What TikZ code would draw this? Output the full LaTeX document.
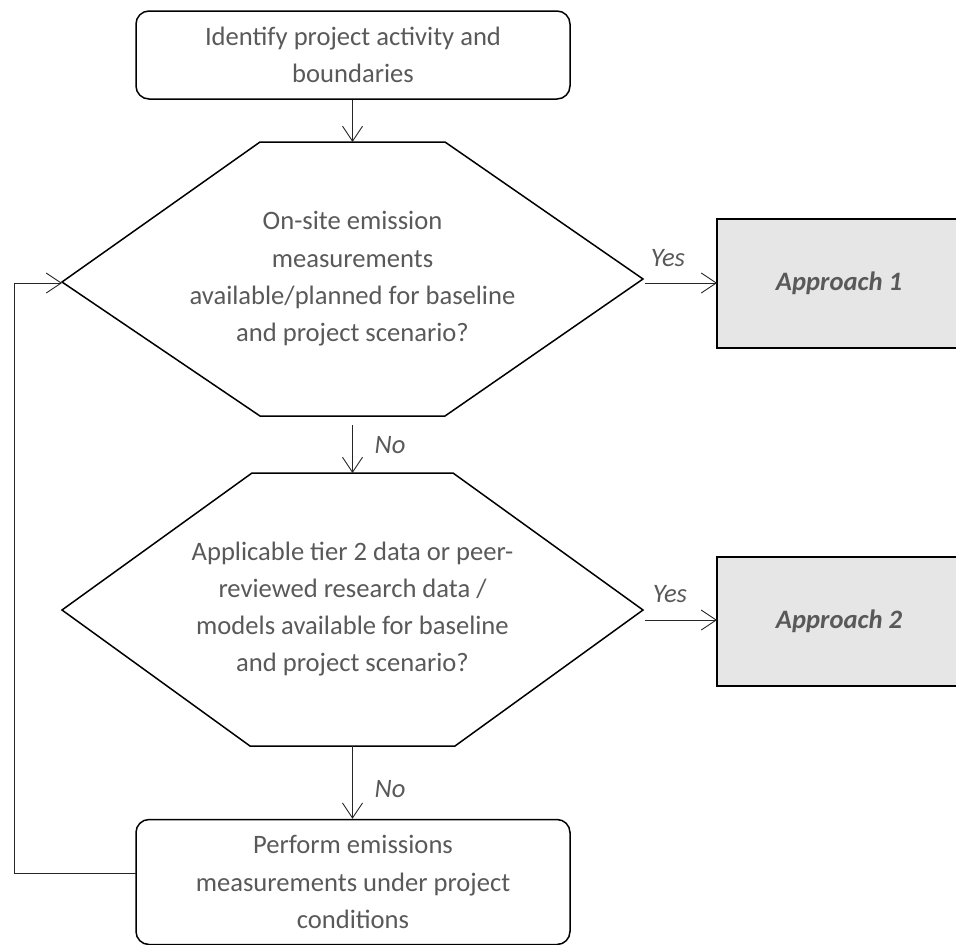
\documentclass[tikz,border=0pt]{standalone}
\usepackage{fontspec}
\setmainfont{Carlito}
\usetikzlibrary{arrows.meta}
\definecolor{txtgray}{HTML}{595959}
\definecolor{boxfill}{HTML}{E6E6E6}
\tikzset{
  flowtext/.style={font=\fontsize{26.6}{37.3}\selectfont, text=txtgray, align=center},
  roundbox/.style={draw=black, line width=1.5pt, rounded corners=13pt, minimum width=434pt, minimum height=88pt, inner sep=0pt, flowtext},
  approachbox/.style={draw=black, line width=1.5pt, fill=boxfill, minimum width=244pt, minimum height=129pt, inner sep=0pt, font=\fontsize{26.6}{37.3}\selectfont\bfseries\itshape, text=txtgray},
  hexline/.style={draw=black, line width=1.5pt},
  conn/.style={draw=black!85, line width=0.9pt, -{Straight Barb[length=15pt,width=20pt,line width=0.9pt]}},
  lbl/.style={font=\fontsize{26.6}{37.3}\selectfont\itshape, text=txtgray, inner sep=0pt}
}
\begin{document}
\begin{tikzpicture}[x=1pt,y=-1pt]
\useasboundingbox (0,0) rectangle (956,945);
\begin{scope}
\clip (0,0) rectangle (956,945);
% top box
\node[roundbox] (start) at (353,55) {Identify project activity and\\boundaries};
% hexagon 1
\coordinate (h1top) at (352.5,142);
\coordinate (h1bot) at (352.5,416);
\coordinate (h1left) at (62,282);
\coordinate (h1right) at (643,279);
\draw[hexline] (260,142) -- (445,142) -- (h1right) -- (445,416) -- (260,416) -- (h1left) -- cycle;
\node[flowtext] (q1) at (352.5,279) {On-site emission\\measurements\\available/planned for baseline\\and project scenario?};
% hexagon 2
\coordinate (h2top) at (352.5,473);
\coordinate (h2bot) at (352.5,746);
\coordinate (h2left) at (62,610);
\coordinate (h2right) at (643,610);
\draw[hexline] (252,473) -- (453,473) -- (h2right) -- (455,746) -- (250,746) -- (h2left) -- cycle;
\node[flowtext] (q2) at (352.5,609) {Applicable tier 2 data or peer-\\reviewed research data /\\models available for baseline\\and project scenario?};
% approach boxes
\node[approachbox] (a1) at (839,283.5) {Approach 1};
\node[approachbox] (a2) at (839,621.5) {Approach 2};
% bottom box
\node[roundbox, minimum height=125pt] (perf) at (353,882) {Perform emissions\\measurements under project\\conditions};
% connectors
\coordinate (a1in) at (717,283);
\coordinate (y1s) at (645,283);
\coordinate (a2in) at (717,620);
\coordinate (y2s) at (645,620);
\coordinate (n1s) at (352.5,425);
\coordinate (loopa) at (14,873);
\coordinate (loopb) at (14,283);
\coordinate (perfleft) at (136,873);
\coordinate (h1in) at (62,283);
\draw[conn] (start.south -| h1top) -- (h1top);
\draw[conn] (y1s) -- (a1in);
\draw[conn] (n1s) -- (h2top);
\draw[conn] (y2s) -- (a2in);
\draw[conn] (h2bot) -- (perf.north -| h2bot);
\draw[conn] (perfleft) -- (loopa) -- (loopb) -- (h1in);
% labels
\node[lbl] (yes1) at (668,258) {Yes};
\node[lbl] (yes2) at (670,594) {Yes};
\node[lbl] (no1) at (390,445) {No};
\node[lbl] (no2) at (390,789) {No};
\end{scope}
\end{tikzpicture}
\end{document}
